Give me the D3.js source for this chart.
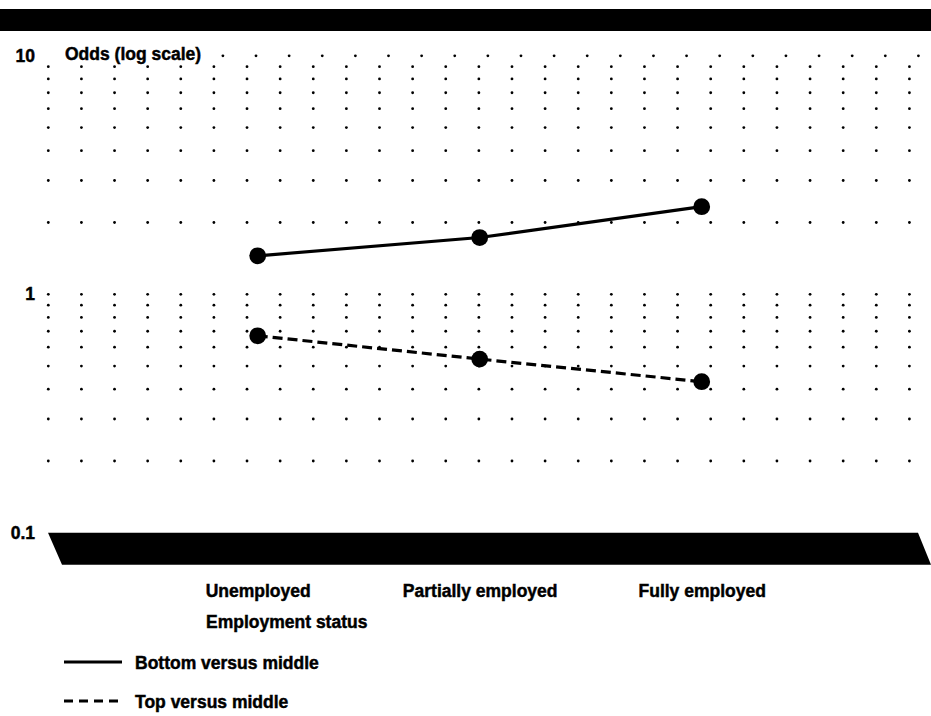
<!DOCTYPE html>
<html>
<head>
<meta charset="utf-8">
<script src="https://cdn.jsdelivr.net/npm/d3@7"></script>
<style>
  html, body { margin: 0; padding: 0; background: #fff; }
  svg { display: block; }
  text { font-family: "Liberation Sans", Arial, Helvetica, sans-serif; font-weight: bold; fill: #000; stroke: #000; stroke-width: 0.45px; }
</style>
</head>
<body>
<svg id="chart" width="931" height="716"></svg>
<script>
// ---- data ----
const categories = ["Unemployed", "Partially employed", "Fully employed"];
const bottomVsMiddle = [1.45, 1.73, 2.33];
const topVsMiddle = [0.67, 0.535, 0.43];
const seriesNames = ["Bottom versus middle", "Top versus middle"];
const yTickValues = [0.1, 1, 10];
const yTickLabels = ["0.1", "1", "10"];
const yAxisTitle = "Odds (log scale)";
const xAxisTitle = "Employment status";

// ---- layout ----
const W = 931, H = 716;
const svg = d3.select("#chart");
svg.append("rect").attr("width", W).attr("height", H).attr("fill", "#fff");

const y = d3.scaleLog().domain([0.1, 10]).range([532.8, 55.8]);
const x = d3.scalePoint().domain(categories).range([257.7, 701.7]);

// top black bar
svg.append("rect").attr("x", 0).attr("y", 9).attr("width", W).attr("height", 22).attr("fill", "#000");

// bottom black band (at the 0.1 baseline)
const bandTop = y(0.1), bandBot = bandTop + 32;
svg.append("path")
  .attr("d", `M48,${bandTop} L918,${bandTop} L931,${bandBot} L62,${bandBot} Z`)
  .attr("fill", "#000");

// dotted log grid
const gridCols = d3.range(27).map(i => 48.3 + i * 33.12);
const gridRows = y.ticks().filter(v => v > 0.1 + 1e-9 && v < 10 - 1e-9);
const gDots = svg.append("g");
gridRows.forEach(v => {
  gridCols.forEach(cx => {
    gDots.append("circle").attr("cx", cx).attr("cy", y(v)).attr("r", 1.4).attr("fill", "#000");
  });
});
// top row (value 10), offset and starting after the title
gridCols.forEach(cx => {
  const px = cx + 9;
  if (px > 215) gDots.append("circle").attr("cx", px).attr("cy", y(10)).attr("r", 1.4).attr("fill", "#000");
});

// y axis labels
const yAxis = d3.axisLeft(y)
  .tickValues(yTickValues)
  .tickFormat((d, i) => yTickLabels[i])
  .tickSize(0).tickPadding(0);
const gy = svg.append("g").attr("transform", "translate(35,0)").call(yAxis);
gy.select(".domain").remove();
gy.selectAll("text").attr("font-size", 17.5).attr("font-family", null).attr("fill", null).attr("dy", "0.3em");

// y axis title
svg.append("text").attr("x", 65).attr("y", 60).attr("font-size", 17.5).text(yAxisTitle);

// x axis labels
const xAxis = d3.axisBottom(x).tickSize(0).tickPadding(20);
const gx = svg.append("g").attr("transform", `translate(0,${bandBot})`).call(xAxis);
gx.select(".domain").remove();
gx.selectAll("text").attr("font-size", 17.5).attr("font-family", null).attr("fill", null);

// x axis title
svg.append("text").attr("x", 206).attr("y", 628).attr("font-size", 17.5).text(xAxisTitle);

// series
const series = [
  { name: seriesNames[0], values: bottomVsMiddle, dash: null },
  { name: seriesNames[1], values: topVsMiddle, dash: "10,5" }
];
const line = d3.line().x((d, i) => x(categories[i])).y(d => y(d));
series.forEach(s => {
  svg.append("path").datum(s.values)
    .attr("d", line)
    .attr("fill", "none").attr("stroke", "#000").attr("stroke-width", 3.2)
    .attr("stroke-dasharray", s.dash);
  svg.selectAll(null).data(s.values).enter().append("circle")
    .attr("cx", (d, i) => x(categories[i])).attr("cy", d => y(d))
    .attr("r", 8.4).attr("fill", "#000");
});

// legend
const legendY = [662, 701];
series.forEach((s, i) => {
  svg.append("line").attr("x1", 64).attr("x2", 122).attr("y1", legendY[i]).attr("y2", legendY[i])
    .attr("stroke", "#000").attr("stroke-width", 2.8)
    .attr("stroke-dasharray", s.dash ? "9,6" : null);
  svg.append("text").attr("x", 135).attr("y", legendY[i] + 6.5).attr("font-size", 17.5).text(s.name);
});
</script>
</body>
</html>
